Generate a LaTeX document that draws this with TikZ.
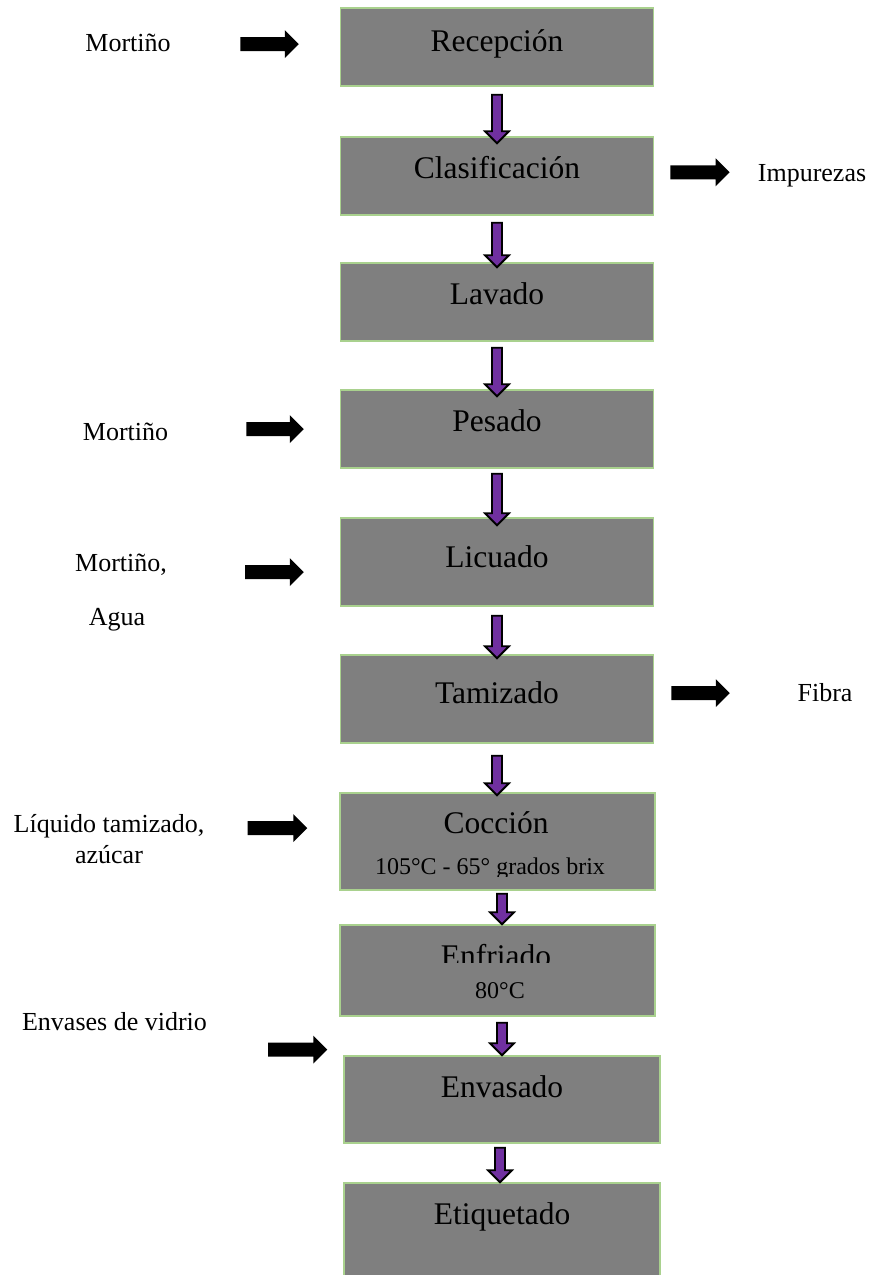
\documentclass[tikz,border=0pt]{standalone}
\usepackage{fontspec}
\setmainfont{Liberation Serif}
\usetikzlibrary{calc}
\definecolor{boxgray}{HTML}{7F7F7F}
\definecolor{boxedge}{HTML}{A9D18E}
\definecolor{flowpurple}{HTML}{7030A0}
% purple block arrow pointing down, from #1 to #2 (x taken from #1)
\newcommand\downflow[2]{%
  \path let \p1=#1, \p2=#2 in
    [draw=black, line width=1.8pt, fill=flowpurple, line join=miter]
    (\x1-5pt,\y1) -- (\x1+5pt,\y1) -- (\x1+5pt,\y2+12pt) -- (\x1+12pt,\y2+12pt)
    -- (\x1,\y2) -- (\x1-12pt,\y2+12pt) -- (\x1-5pt,\y2+12pt) -- cycle;}
% black block arrow pointing right, x from #1 to #2, height taken from #2
\newcommand\rightflow[2]{%
  \path let \p1=#1, \p2=#2 in [fill=black]
    (\x1,\y2+7pt) -- (\x2-14pt,\y2+7pt) -- (\x2-14pt,\y2+14pt) -- (\x2,\y2)
    -- (\x2-14pt,\y2-14pt) -- (\x2-14pt,\y2-7pt) -- (\x1,\y2-7pt) -- cycle;}
\begin{document}
\begin{tikzpicture}[x=1pt,y=-1pt,
  stepbox/.style={draw=boxedge, line width=1.5pt, fill=boxgray, inner sep=0pt},
  steptext/.style={anchor=base, inner sep=0pt, font=\fontsize{31.5}{36}\selectfont},
  subtext/.style={anchor=base, inner sep=0pt, font=\fontsize{24}{28}\selectfont},
  sidetext/.style={anchor=base, inner sep=0pt, font=\fontsize{26}{30}\selectfont}]
\useasboundingbox (0,0) rectangle (870,1275);

% process boxes
\node[stepbox, minimum width=313pt, minimum height=78pt] (b1) at (497,47) {};
\node[stepbox, minimum width=313pt, minimum height=78pt] (b2) at (497,176) {};
\node[stepbox, minimum width=313pt, minimum height=78pt] (b3) at (497,302) {};
\node[stepbox, minimum width=313pt, minimum height=78pt] (b4) at (497,429) {};
\node[stepbox, minimum width=313pt, minimum height=88pt] (b5) at (497,562) {};
\node[stepbox, minimum width=313pt, minimum height=88pt] (b6) at (497,699) {};
\node[stepbox, minimum width=315pt, minimum height=97pt] (b7) at (497.5,841.5) {};
\node[stepbox, minimum width=315pt, minimum height=91pt] (b8) at (497.5,970.5) {};
\node[stepbox, minimum width=316pt, minimum height=87pt] (b9) at (502,1099.5) {};
\node[stepbox, minimum width=316pt, minimum height=93pt] (b10) at (502,1229.5) {};

% box labels
\node[steptext] (t1) at (497,51) {Recepción};
\node[steptext] (t2) at (497,178) {Clasificación};
\node[steptext] (t3) at (497,304) {Lavado};
\node[steptext] (t4) at (497,431) {Pesado};
\node[steptext] (t5) at (497,567) {Licuado};
\node[steptext] (t6) at (497,703) {Tamizado};
\node[steptext] (t7) at (496,833) {Cocción};
\begin{scope}
  \clip (340,845) rectangle (655,876);
  \node[subtext] (s7) at (490,874) {105°C - 65° grados brix};
\end{scope}
\begin{scope}
  \clip (340,925) rectangle (655,962);
  \node[steptext] (t8) at (496,966) {Enfriado};
\end{scope}
\node[subtext] (s8) at (500,998) {80°C};
\node[steptext] (t9) at (502,1097) {Envasado};
\node[steptext] (t10) at (502,1224) {Etiquetado};

% inputs and outputs
\node[sidetext] (m1) at (128,51) {Mortiño};
\node[sidetext] (o1) at (812,181) {Impurezas};
\node[sidetext] (m2) at (125.5,440) {Mortiño};
\node[sidetext] (m3) at (121,571) {Mortiño,};
\node[sidetext] (m3b) at (117,625) {Agua};
\node[sidetext] (o2) at (825,701) {Fibra};
\node[sidetext] (m4) at (109,832) {Líquido tamizado,};
\node[sidetext] (m4b) at (109,863) {azúcar};
\node[sidetext] (m5) at (114.5,1030) {Envases de vidrio};

% flow between steps
\downflow{([xshift=0pt,yshift=-8pt]b1.south)}{([yshift=-7pt]b2.north)}
\downflow{([xshift=0pt,yshift=-7pt]b2.south)}{([yshift=-5pt]b3.north)}
\downflow{([xshift=0pt,yshift=-6pt]b3.south)}{([yshift=-7pt]b4.north)}
\downflow{([xshift=0pt,yshift=-5pt]b4.south)}{([yshift=-8pt]b5.north)}
\downflow{([xshift=0pt,yshift=-9pt]b5.south)}{([yshift=-4pt]b6.north)}
\downflow{([xshift=0pt,yshift=-12pt]b6.south)}{([yshift=-3pt]b7.north)}
\downflow{([xshift=4.5pt,yshift=-3pt]b7.south)}{([yshift=0pt]b8.north)}
\downflow{([xshift=4.5pt,yshift=-6pt]b8.south)}{([yshift=0pt]b9.north)}
\downflow{([xshift=-2pt,yshift=-4pt]b9.south)}{([yshift=0pt]b10.north)}

% side inputs and outputs
\rightflow{([xshift=69.5pt]m1.east)}{([xshift=-41pt,yshift=3pt]b1.west)}
\rightflow{([xshift=16pt]b2.east)}{([xshift=-28pt,yshift=3pt]o1.west)}
\rightflow{([xshift=78pt]m2.east)}{([xshift=-36pt]b4.west)}
\rightflow{([xshift=78pt]m3.east)}{([xshift=-36pt,yshift=-10pt]b5.west)}
\rightflow{([xshift=17pt]b6.east)}{([xshift=-67.5pt,yshift=-1pt]o2.west)}
\rightflow{([xshift=43pt]m4.east)}{([xshift=-32pt,yshift=13.5pt]b7.west)}
\rightflow{([xshift=61pt]m5.east)}{([xshift=-16pt,yshift=50pt]b9.west)}
\end{tikzpicture}
\end{document}
